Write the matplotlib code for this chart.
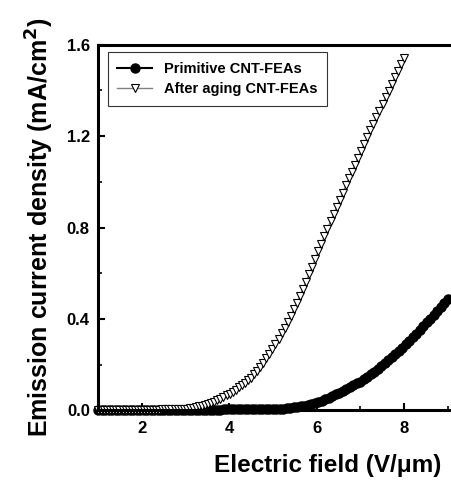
import numpy as np
import matplotlib
matplotlib.use('Agg')
from matplotlib import pyplot as plt
from matplotlib.ticker import MultipleLocator

plt.rcParams['font.family'] = ['Liberation Sans', 'DejaVu Sans']
plt.rcParams['font.weight'] = 'bold'

# after aging CNT-FEAs: field step 0.07 V/um from 1.0 to 8.0
aged_x = np.round(np.arange(101) * 0.07 + 1.0, 2)
aged_y = [
    0.000, 0.000, 0.001, 0.000, 0.001, 0.001, 0.000, 0.001, 0.001, 0.001,
    0.001, 0.001, 0.001, 0.002, 0.001, 0.002, 0.002, 0.002, 0.002, 0.002,
    0.002, 0.003, 0.003, 0.003, 0.004, 0.004, 0.005, 0.005, 0.006, 0.007,
    0.009, 0.011, 0.014, 0.017, 0.020, 0.023, 0.027, 0.032, 0.038, 0.044,
    0.050, 0.057, 0.065, 0.072, 0.081, 0.090, 0.100, 0.110, 0.121, 0.132,
    0.143, 0.158, 0.173, 0.190, 0.208, 0.227, 0.247, 0.268, 0.290, 0.313,
    0.337, 0.362, 0.388, 0.414, 0.441, 0.470, 0.500, 0.531, 0.563, 0.595,
    0.628, 0.662, 0.696, 0.729, 0.762, 0.795, 0.827, 0.859, 0.891, 0.922,
    0.953, 0.984, 1.015, 1.045, 1.075, 1.105, 1.135, 1.165, 1.195, 1.225,
    1.254, 1.283, 1.312, 1.341, 1.370, 1.399, 1.428, 1.457, 1.486, 1.515,
    1.544,
]

# primitive CNT-FEAs: field step 0.08 V/um from 1.0 to 9.0
prim_x = np.round(np.arange(101) * 0.08 + 1.0, 2)
prim_y = [
    0.001, 0.001, 0.001, 0.001, 0.001, 0.001, 0.001, 0.001, 0.001, 0.001,
    0.001, 0.001, 0.001, 0.001, 0.001, 0.001, 0.001, 0.001, 0.002, 0.001,
    0.002, 0.002, 0.002, 0.002, 0.002, 0.002, 0.002, 0.002, 0.002, 0.002,
    0.002, 0.002, 0.002, 0.002, 0.002, 0.002, 0.003, 0.003, 0.003, 0.003,
    0.003, 0.003, 0.003, 0.003, 0.003, 0.003, 0.004, 0.004, 0.004, 0.004,
    0.004, 0.005, 0.006, 0.007, 0.008, 0.010, 0.012, 0.014, 0.017, 0.020,
    0.023, 0.027, 0.031, 0.035, 0.041, 0.047, 0.054, 0.061, 0.069, 0.077,
    0.085, 0.093, 0.101, 0.109, 0.117, 0.125, 0.135, 0.146, 0.157, 0.169,
    0.181, 0.193, 0.205, 0.218, 0.231, 0.245, 0.259, 0.273, 0.288, 0.303,
    0.319, 0.335, 0.351, 0.367, 0.384, 0.401, 0.418, 0.435, 0.452, 0.469,
    0.486,
]

fig = plt.figure(figsize=(4.52, 4.82), dpi=100)
ax = fig.add_axes([0.217, 0.149, 0.783, 0.758])

ax.plot(prim_x, prim_y, color='black', lw=1.5, marker='o', ms=6.5,
        mfc='black', mec='black', clip_on=False, label='Primitive CNT-FEAs')
ax.plot(aged_x, aged_y, color='gray', lw=1, marker='v', ms=6,
        mfc='white', mec='black', mew=0.8, clip_on=False,
        label='After aging CNT-FEAs')

ax.set_xlim(1, 9.1)
ax.set_ylim(0, 1.6)
ax.xaxis.set_major_locator(MultipleLocator(2))
ax.xaxis.set_minor_locator(MultipleLocator(1))
ax.yaxis.set_major_locator(MultipleLocator(0.4))
ax.yaxis.set_minor_locator(MultipleLocator(0.2))
ax.yaxis.set_major_formatter(matplotlib.ticker.FormatStrFormatter('%.1f'))

for s in ['left', 'bottom', 'top']:
    ax.spines[s].set_linewidth(2.2)
ax.spines['right'].set_visible(False)
ax.tick_params(which='major', direction='in', length=5, width=1.5,
               labelsize=12, pad=8, top=False, right=False)
ax.tick_params(axis='y', which='major', pad=6)
ax.tick_params(which='minor', direction='in', length=3, width=1.2,
               top=False, right=False)
for lab in ax.get_xticklabels() + ax.get_yticklabels():
    lab.set_fontweight('bold')

ax.set_xlabel('Electric field (V/\u03bcm)', fontsize=17.5, fontweight='bold')
ax.xaxis.set_label_coords(0.65, -0.12)
ax.set_ylabel('Emission current density (mA/cm$^{\\mathbf{2}}$)', fontsize=18,
              fontweight='bold', labelpad=8)

leg = ax.legend(loc='upper left', bbox_to_anchor=(0.028, 0.98),
                borderaxespad=0, prop={'size': 10.5, 'weight': 'bold'},
                frameon=True, fancybox=False, edgecolor='black',
                borderpad=0.65, handlelength=2.4, labelspacing=0.45)
leg.get_frame().set_linewidth(0.8)

plt.savefig('out.png', dpi=100)
